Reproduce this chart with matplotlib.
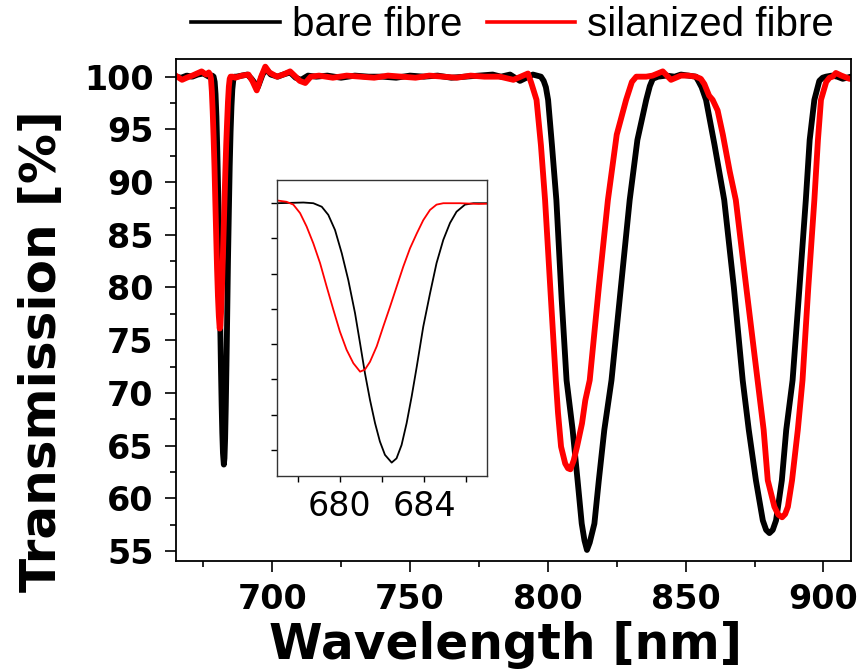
import matplotlib
matplotlib.use("Agg")
import matplotlib.pyplot as plt
from matplotlib.ticker import MultipleLocator, FixedLocator, NullFormatter
from matplotlib.lines import Line2D

# ---- data ----
bare_wl = [665, 667, 669, 671, 673, 675, 677.0, 678.27, 678.74, 679.14, 679.45, 679.77, 680.09,
           680.40, 680.72, 680.96, 681.19, 681.43, 681.67, 681.9, 682.14, 682.46, 682.69,
           682.93, 683.17, 683.41, 683.65, 683.96, 684.28, 684.59, 684.91, 685.23, 685.54,
           685.94, 686.34, 687.0, 689,
           691, 692.5, 694.8, 696.5, 697.8, 699.5, 702, 704, 706.5, 708.5, 710.5, 713,
           716, 720, 725, 730, 735, 740, 745, 750, 755, 760, 765, 770, 775, 780, 783,
           786.3, 789.9, 794.6, 797.5, 798.5, 799.3, 800.1, 801.5, 803.1, 805, 806.8, 809.0,
           810.8, 812.3, 813.3, 814.2, 815.2, 816.9, 818.5, 820.5, 823.1, 826.5, 829.7, 832.5,
           835.7, 837.0, 838.1, 840, 843, 846, 848.3, 851, 853.7, 854.6, 855.8, 857.4, 860.5,
           864, 867.5, 870.7, 872.9, 875.5, 878.0, 879.2, 880.4, 881.6, 882.8, 884.9, 886.5,
           888.8, 891.3, 893.6, 895, 896.7, 898.5, 899.7, 900.9, 903, 905, 907, 910]
bare_T = [100.0, 99.9, 100.1, 100.0, 100.2, 100.3, 100.0, 100.1, 100.0, 99.5, 98.35, 96.2, 92.9,
          89.1, 84.4, 80.1, 75.9, 72.1, 68.8, 66.2, 64.3, 63.2, 63.8,
          65.7, 68.8, 72.6, 76.8, 82.5, 87.2, 91.5, 94.8, 97.2, 98.8,
          99.8, 100.0, 100.0, 100.1,
          100.2, 99.8, 99.0, 100.2, 100.7, 100.2, 100.0, 100.2, 100.4, 99.9, 99.7, 100.1,
          100.0, 100.1, 99.9, 100.1, 100.0, 100.0, 99.9, 100.1, 100.0, 100.1, 99.9, 100.0, 100.1, 100.2, 100.0,
          100.2, 99.6, 100.2, 100.0, 99.6, 99.0, 97.8, 93.5, 88.3, 79.0, 71.2, 66.5,
          61.7, 57.6, 56.0, 55.1, 55.8, 57.6, 61.7, 66.5, 71.2, 80.0, 88.3, 94.0,
          97.8, 99.1, 99.8, 100.0, 100.1, 100.0, 100.2, 100.1, 100.0, 99.6, 99.0, 97.8, 93.5,
          88.3, 80.0, 71.2, 66.5, 61.7, 57.9, 57.0, 56.7, 57.0, 57.9, 61.7, 66.5,
          71.2, 80.0, 88.3, 94.0, 97.8, 99.6, 99.9, 100.0, 100.1, 100.0, 99.8, 100.0]

silan_wl = [665, 667.3, 669, 671, 674.4, 676, 677.0, 677.47, 677.79, 678.11, 678.42, 678.74,
            679.06, 679.37, 679.69, 680.0, 680.32, 680.64, 680.96, 681.19, 681.43, 681.75,
            682.06, 682.38, 682.70, 683.01, 683.33, 683.65, 683.96, 684.28, 684.59, 684.91,
            685.7, 686.6, 689, 691.4, 692.8, 694.4, 696,
            697.5, 699, 701.7, 704, 706.5, 708.5, 710, 712, 714, 717, 722, 727, 732, 737,
            742, 747, 752, 757, 762, 767, 772, 777, 782.6, 787.5, 792.8, 794.0, 795.9,
            797.5, 799.0, 801, 802.9, 803.7, 804.8, 806.3, 807.3, 808.2, 809.4, 810.6, 812.4,
            813.6, 815.2, 818.5, 821.8, 825, 828.4, 830.5, 832.1, 835.7, 838, 841.7, 844.7,
            848.3, 851, 853.7, 855.5, 856.8, 858.5, 859.8, 861.6, 863.5, 866, 868.2, 872,
            876.1, 878.3, 879.8, 882.2, 883.6, 885.0, 886.1, 887.1, 888.6, 890.7, 892.4,
            894.5, 896.7, 898, 899.1, 901, 902.2, 903.3, 904.5, 906.5, 909.4, 910]
silan_T = [100.1, 99.7, 99.9, 100.1, 100.5, 100.2, 100.4, 100.2, 99.8, 98.6, 96.7, 94.3,
           91.5, 88.2, 84.9, 81.8, 79.2, 77.3, 76.1, 76.4, 77.5, 79.7,
           82.5, 85.3, 88.2, 91.0, 93.6, 95.7, 97.6, 99.05, 99.8, 100.0,
           100.0, 99.9, 100.1, 100.2, 99.6, 98.7, 100.0,
           100.95, 100.4, 100.0, 100.2, 100.5, 100.0, 99.6, 99.4, 100.0, 100.1, 99.9, 100.1, 100.0, 99.9,
           100.1, 100.0, 99.9, 100.1, 100.0, 99.9, 100.1, 100.0, 100.0, 99.7, 100.3, 99.4, 97.8,
           93.5, 88.3, 79.5, 71.2, 68.1, 64.9, 63.3, 62.85, 62.75, 63.6, 64.9, 67.1,
           69.3, 71.2, 80.0, 88.3, 94.5, 97.8, 99.5, 100.0, 100.0, 100.1, 100.5, 99.7,
           100.1, 100.1, 100.0, 99.8, 99.3, 98.2, 97.8, 96.8, 94.5, 91.0, 88.3, 80.0,
           71.2, 66.5, 61.7, 59.2, 58.45, 58.2, 58.5, 59.2, 61.7, 66.5, 71.2,
           80.0, 88.3, 94.0, 97.8, 99.5, 99.9, 100.0, 100.35, 100.1, 99.8, 99.8]

labels = ["bare fibre", "silanized fibre"]
colors = ["#000000", "#ff0000"]

x_major = [700, 750, 800, 850, 900]
y_major = [55, 60, 65, 70, 75, 80, 85, 90, 95, 100]
inset_x_ticks = [680, 684]

# ---- figure ----
fig = plt.figure(figsize=(8.66, 6.69), dpi=100)
ax = fig.add_axes([0.2029, 0.1614, 0.7798, 0.75])

ax.plot(bare_wl, bare_T, color=colors[0], lw=4.2, solid_joinstyle="round")
ax.plot(silan_wl, silan_T, color=colors[1], lw=4.2, solid_joinstyle="round")

ax.set_xlim(665, 910)
ax.set_ylim(54.05, 101.65)
ax.xaxis.set_major_locator(FixedLocator(x_major))
ax.xaxis.set_minor_locator(MultipleLocator(25))
ax.yaxis.set_major_locator(FixedLocator(y_major))
ax.yaxis.set_minor_locator(MultipleLocator(2.5))
ax.tick_params(which="major", length=8, width=1.2, direction="out", top=False, right=False)
ax.tick_params(which="minor", length=4, width=1.2, direction="out", top=False, right=False)
ax.tick_params(axis="x", which="major", pad=8)
ax.tick_params(axis="y", which="major", pad=8)
for lab in ax.get_xticklabels() + ax.get_yticklabels():
    lab.set_fontfamily("DejaVu Sans")
    lab.set_fontweight("bold")
    lab.set_fontsize(24)
for sp in ax.spines.values():
    sp.set_linewidth(1.3)

ax.set_xlabel("Wavelength [nm]", fontfamily="DejaVu Sans", fontweight="bold", fontsize=35)
ax.set_ylabel("Transmission [%]", fontfamily="DejaVu Sans", fontweight="bold", fontsize=36)
ax.xaxis.label.set_va("center")
ax.yaxis.label.set_va("center")
ax.xaxis.set_label_coords(0.488, -0.168)
ax.yaxis.set_label_coords(-0.198, 0.418)

# ---- inset ----
axin = fig.add_axes([0.3195, 0.2885, 0.2432, 0.4425])
axin.plot(bare_wl, bare_T, color=colors[0], lw=1.3)
axin.plot(silan_wl, silan_T, color=colors[1], lw=1.3)
axin.set_xlim(677, 687)
axin.set_ylim(61.3, 103.3)
axin.xaxis.set_major_locator(FixedLocator(inset_x_ticks))
axin.xaxis.set_minor_locator(MultipleLocator(2))
axin.yaxis.set_major_locator(MultipleLocator(10))
axin.yaxis.set_minor_locator(MultipleLocator(5))
axin.yaxis.set_major_formatter(NullFormatter())
axin.tick_params(which="both", length=4, width=1.0, direction="out", top=False, right=False)
axin.tick_params(axis="x", which="major", pad=6)
for lab in axin.get_xticklabels():
    lab.set_fontfamily("DejaVu Sans")
    lab.set_fontsize(24)
for sp in axin.spines.values():
    sp.set_linewidth(1.0)
    sp.set_color("#333333")

# ---- legend ----
handles = [Line2D([], [], color=c, lw=2.6) for c in colors]
fig.legend(handles, labels, loc="center", bbox_to_anchor=(0.592, 0.963), ncol=2,
           frameon=False, prop={"family": "Liberation Sans", "size": 29},
           handlelength=2.2, handletextpad=0.3, columnspacing=0.6)

fig.savefig("out.png", dpi=100)
